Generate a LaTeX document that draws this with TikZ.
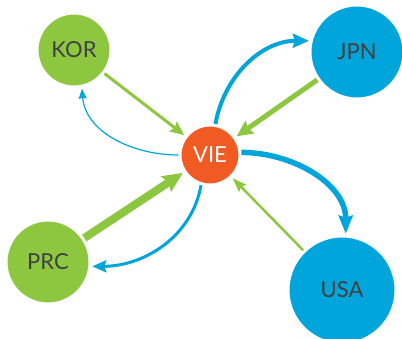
\documentclass[tikz,border=0pt]{standalone}
\usepackage{fontspec}
\setmainfont{Lato}
\usepackage{tikz}
\usetikzlibrary{arrows.meta,positioning,calc}
\definecolor{tnGreen}{HTML}{8DC63F}
\definecolor{tnBlue}{HTML}{00A5DB}
\definecolor{tnHub}{HTML}{F15A22}
\definecolor{tnText}{HTML}{404040}
\tikzset{
    tnNodeBase/.style={
        circle,
        draw=white,
        line width=1pt,
        inner sep=0pt,
        text=tnText,
        font=\fontsize{22}{24}\selectfont
    },
    % Country variants
    greenNode/.style={tnNodeBase, fill=tnGreen},
    blueNode/.style={tnNodeBase, fill=tnBlue},
    hubNode/.style={tnNodeBase, fill=tnHub, text=white},
    % Flows
    flowBase/.style={shorten <=2pt, shorten >=3pt},
    flowIn/.style={flowBase, draw=tnGreen},
    flowOut/.style={flowBase, draw=tnBlue}
}
\begin{document}
\begin{tikzpicture}[x=1pt,y=1pt]
    \useasboundingbox (0,0) rectangle (402,339);
    \clip (0,0) rectangle (402,339);

    \node[hubNode, minimum size=58pt] (vie) at (210,184) {VIE};
    \node[greenNode, minimum size=72pt] (kor) at (74,289) {KOR};
    \node[blueNode, minimum size=92pt] (jpn) at (357,287) {JPN};
    \node[greenNode, minimum size=82pt] (prc) at (48,77) {PRC};
    \node[blueNode, minimum size=106pt] (usa) at (342,49) {USA};

    % imports (green)
    \draw[flowIn, line width=3pt, -{Stealth[length=14pt,width=12pt,inset=2pt]}] (kor) -- (vie);
    \draw[flowIn, line width=5pt, -{Stealth[length=16pt,width=15pt,inset=2pt]}] (jpn) -- (vie);
    \draw[flowIn, line width=8pt, -{Stealth[length=20pt,width=18pt,inset=3pt]}] (prc) -- (vie);
    \draw[flowIn, line width=2.5pt, -{Stealth[length=14pt,width=10pt,inset=2pt]}] (usa) -- (vie);

    % exports (blue)
    \draw[flowOut, line width=1.2pt, -{Stealth[length=10pt,width=8pt,inset=1pt]}]
        (vie.180) to[out=180, in=-85] (kor.-78);
    \draw[flowOut, line width=4pt, -{Stealth[length=16pt,width=14pt,inset=2pt]}]
        (vie.80) to[out=80, in=180] (jpn.166);
    \draw[flowOut, line width=5.5pt, -{Stealth[length=18pt,width=14pt,inset=2pt]}]
        (vie.5) to[out=0, in=90] (usa.86);
    \draw[flowOut, line width=3pt, -{Stealth[length=14pt,width=12pt,inset=2pt]}]
        (vie.-107) to[out=-100, in=0] (prc.-6);
\end{tikzpicture}
\end{document}
